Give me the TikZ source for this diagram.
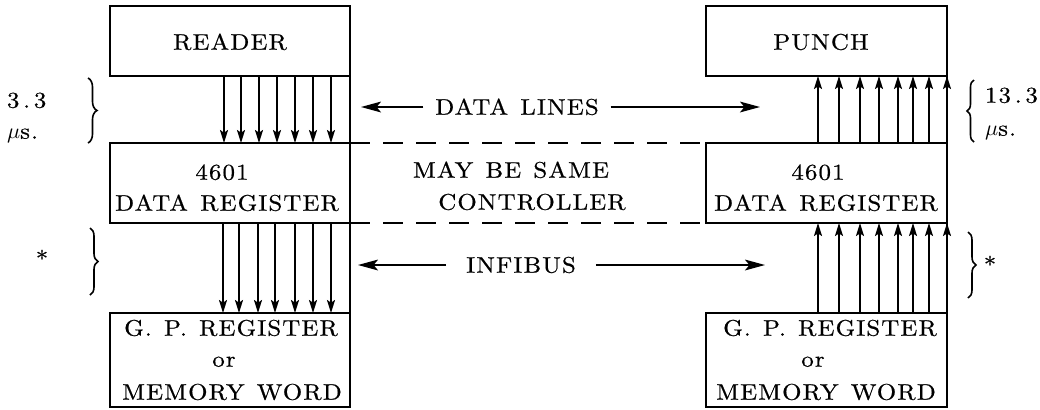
\documentclass[tikz,border=0pt]{standalone}
\usepackage{fontspec}
\newfontfamily\lmsp{lmroman10-regular.otf}[LetterSpace=5,WordSpace=1.3,FakeStretch=1.1,FakeBold=0.6]
\usetikzlibrary{arrows.meta,decorations.pathreplacing}
\begin{document}
\begin{tikzpicture}[x=0.5pt,y=-0.5pt,line width=0.85pt,
  every node/.style={inner sep=0pt,outer sep=0pt},
  lbl/.style={font=\lmsp\fontsize{11.3}{13}\selectfont,text height=7.7pt,text depth=0pt},
  box/.style={draw,line width=0.85pt},
  varr/.style={-{Stealth[length=6.5pt,width=4pt,inset=1.3pt]}},
  harr/.style={-{Stealth[length=10pt,width=5.4pt,inset=2.2pt]}},
  dsh/.style={dash pattern=on 10pt off 6.5pt},
  brc/.style={line width=0.8pt,decorate,decoration={brace,amplitude=#1}}]
\useasboundingbox (0,0) rectangle (1040,409);
% boxes
\node[box,minimum width=120pt,minimum height=35pt] (reader) at (230,41) {};
\node[box,minimum width=120pt,minimum height=40pt] (lreg) at (230,183) {};
\node[box,minimum width=120pt,minimum height=47pt] (lgp) at (230,360) {};
\node[box,minimum width=120.5pt,minimum height=35pt] (punch) at (826.5,41) {};
\node[box,minimum width=120.5pt,minimum height=40pt] (rreg) at (826.5,183) {};
\node[box,minimum width=120.5pt,minimum height=47pt] (rgp) at (826.5,360) {};
% right edges between boxes
\draw (reader.south east) -- (lreg.north east);
\draw (lreg.south east) -- (lgp.north east);
\draw (punch.south east) -- (rreg.north east);
\draw (rreg.south east) -- (rgp.north east);
% bus arrows
\foreach \x in {224,241,259,277,295,313,331}
  \draw[varr] (\x,0 |- reader.south) -- (\x,0 |- lreg.north);
\foreach \x in {223,239,258,275,295,313,331}
  \draw[varr] (\x,0 |- lreg.south) -- (\x,0 |- lgp.north);
\foreach \x in {818,839,860,879,898,913,929,947}
  \draw[varr] (\x,0 |- rreg.north) -- (\x,0 |- punch.south);
\foreach \x in {818,839,860,879,898,913,929,947}
  \draw[varr] (\x,0 |- rgp.north) -- (\x,0 |- rreg.south);
% dashed controller lines
\draw[dsh] (lreg.north east) -- (rreg.north west);
\draw[dsh] (lreg.south east) -- (rreg.south west);
% box texts
\node[lbl] (readert) at (230,42) {READER};
\node[lbl] (puncht) at (821,42) {PUNCH};
\node[lbl] (lregA) at (222,172) {4601};
\node[lbl] (lregB) at (227,203) {DATA REGISTER};
\node[lbl] (rregA) at (818,172) {4601};
\node[lbl] (rregB) at (826,203) {DATA REGISTER};
\node[lbl] (lgpA) at (231,328) {G. P. REGISTER};
\node[lbl] (lgpB) at (224,359) {or};
\node[lbl] (lgpC) at (232,392) {MEMORY WORD};
\node[lbl] (rgpA) at (830,328) {G. P. REGISTER};
\node[lbl] (rgpB) at (813,359) {or};
\node[lbl] (rgpC) at (826,392) {MEMORY WORD};
% middle labels
\node[lbl,inner xsep=6pt] (dl) at (517,107) {DATA LINES};
\coordinate (dlL) at (361,107);
\coordinate (dlR) at (760,107);
\draw[harr] (dl.west) -- (dlL);
\draw[harr] (dl.east) -- (dlR);
\node[lbl] (may) at (511,170) {MAY BE SAME};
\node[lbl] (ctrl) at (532,202) {CONTROLLER};
\node[lbl,inner xsep=10pt] (inf) at (521,265) {INFIBUS};
\coordinate (infL) at (358,265);
\coordinate (infR) at (765,265);
\draw[harr] (inf.west) -- (infL);
\draw[harr] (inf.east) -- (infR);
% timing labels
\node[lbl,anchor=west] (t1) at (7,100) {3\,.\,3};
\node[lbl,anchor=west] (t1u) at (7,131) {$\mu$s.};
\node[lbl,anchor=west] (t2) at (985,95) {13\,.\,3};
\node[lbl,anchor=west] (t2u) at (985,128) {$\mu$s.};
\node[lbl] (s1) at (42,259) {*};
\node[lbl] (s2) at (990,265) {*};
% braces
\draw[brc=4.5pt] (88,78) -- (88,143);
\draw[brc=4pt] (90,228) -- (90,295);
\draw[brc=3.5pt] (974,142) -- (974,80);
\draw[brc=4pt] (968,232) -- (968,298);
\end{tikzpicture}
\end{document}
